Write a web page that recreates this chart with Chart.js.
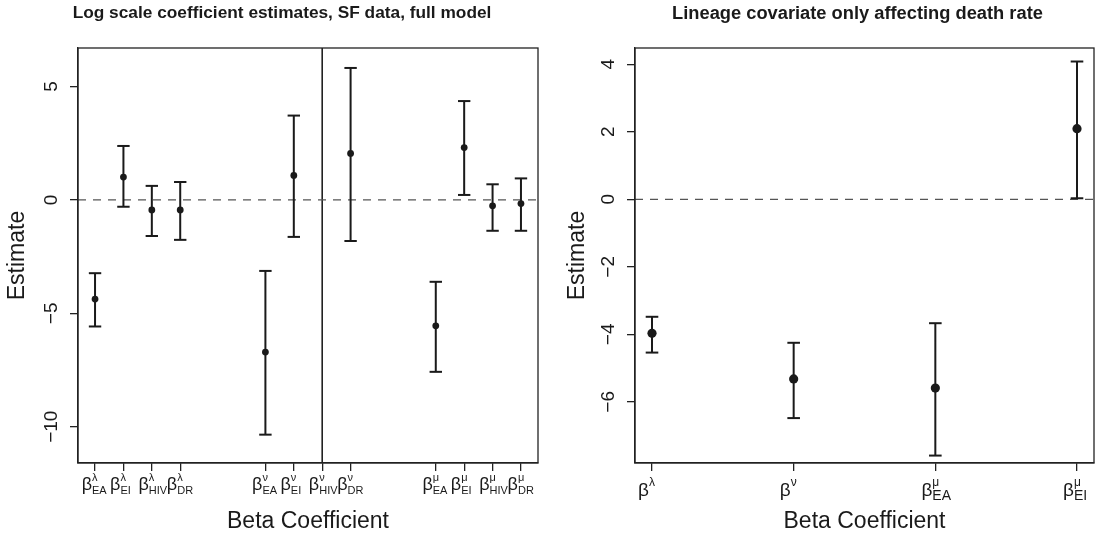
<!DOCTYPE html>
<html><head><meta charset="utf-8">
<script src="https://cdn.jsdelivr.net/npm/chart.js@4/dist/chart.umd.min.js"></script>
<style>
html,body{margin:0;padding:0;background:#fff;}
#wrap{position:relative;width:1096px;height:538px;overflow:hidden;}
canvas{position:absolute;top:0;}
#c1{left:0;}
#c2{left:548px;}
</style></head><body>
<div id="wrap"><canvas id="c1" width="548" height="538"></canvas><canvas id="c2" width="569" height="538"></canvas></div>
<script>
// ---------- Left panel ----------
const leftTitle = 'Log scale coefficient estimates, SF data, full model';
const leftPositions = [1, 2, 3, 4, 7, 8, 9, 10, 13, 14, 15, 16];
const leftTickBase = ['β','β','β','β','β','β','β','β','β','β','β','β'];
const leftTickSup = ['λ','λ','λ','λ','ν','ν','ν','ν','μ','μ','μ','μ'];
const leftTickSub = ['EA','EI','HIV','DR','EA','EI','HIV','DR','EA','EI','HIV','DR'];
const leftEstimate = [-4.37, 1.01, -0.44, -0.44, -6.71, 1.08, null, 2.05, -5.55, 2.31, -0.26, -0.16];
const leftLower    = [-5.58, -0.30, -1.59, -1.76, -10.35, -1.63, null, -1.81, -7.58, 0.22, -1.36, -1.36];
const leftUpper    = [-3.23, 2.38, 0.62, 0.79, -3.13, 3.72, null, 5.82, -3.61, 4.36, 0.69, 0.95];
const leftYTicks = [-10, -5, 0, 5];
const leftXRange = [0.4, 16.6];
const leftYRange = [-11.6, 6.7];
const leftDivider = 9;

// ---------- Right panel ----------
const rightTitle = 'Lineage covariate only affecting death rate';
const rightPositions = [1, 2, 3, 4];
const rightTickBase = ['β','β','β','β'];
const rightTickSup = ['λ','ν','μ','μ'];
const rightTickSub = ['','','EA','EI'];
const rightEstimate = [-3.97, -5.32, -5.59, 2.09];
const rightLower    = [-4.54, -6.48, -7.59, 0.03];
const rightUpper    = [-3.48, -4.25, -3.67, 4.08];
const rightYTicks = [-6, -4, -2, 0, 2, 4];
const rightXRange = [0.88, 4.12];
const rightYRange = [-7.81, 4.48];

const xLabel = 'Beta Coefficient';
const yLabel = 'Estimate';

const FONT = "'Liberation Sans', Arial, Helvetica, sans-serif";
const INK = '#1a1a1a';
const LABEL_SIZE = 23;
const TICK_SIZE = 19;

const boxPlugin = {
  id: 'box',
  afterDatasetsDraw(chart) {
    const a = chart.chartArea, ctx = chart.ctx;
    ctx.save();
    ctx.strokeStyle = '#222';
    ctx.lineWidth = 1.3;
    ctx.strokeRect(a.left, a.top, a.right - a.left, a.bottom - a.top);
    ctx.restore();
  }
};

function fmt(v) { return v < 0 ? '\u2212' + Math.abs(v) : String(v); }

function makeChart(id, p) {
  const whisker = [];
  const points = [];
  p.positions.forEach((x, i) => {
    if (p.est[i] == null) return;
    whisker.push({x: x, y: p.lo[i]}, {x: x, y: p.hi[i]}, {x: x, y: null});
    points.push({x: x, y: p.est[i]});
  });
  const datasets = [
    {label: 'est', data: points, showLine: false, pointRadius: p.pointR, pointHoverRadius: p.pointR,
     pointBackgroundColor: INK, pointBorderColor: INK, pointBorderWidth: 0},
    {label: 'ci', data: whisker, showLine: true, spanGaps: false, borderColor: INK, borderWidth: 2,
     pointStyle: 'line', pointRadius: p.capR, pointHoverRadius: p.capR, pointBorderColor: INK, pointBorderWidth: 2},
    {label: 'zero', data: [{x: p.xr[0], y: 0}, {x: p.xr[1], y: 0}], showLine: true, borderColor: '#555',
     borderWidth: 1.3, borderDash: [8, 7], pointRadius: 0}
  ];
  if (p.divider != null) {
    datasets.push({label: 'div', data: [{x: p.divider, y: p.yr[0]}, {x: p.divider, y: p.yr[1]}], showLine: true,
      borderColor: '#222', borderWidth: 1.6, pointRadius: 0});
  }
  const setTicks = (vals) => (s) => { s.ticks = vals.map(v => ({value: v})); };
  // extra label rows (super/subscripts) anchored at the bottom of the plot (y = yMin);
  // the vertical offset of each row comes from its line height
  const rowX = (size, lh, labels) => ({
    type: 'linear', axis: 'x', position: {y: p.yr[0]}, min: p.xr[0], max: p.xr[1],
    afterBuildTicks: setTicks(p.positions),
    grid: {display: false, drawTicks: false}, border: {display: false},
    ticks: {autoSkip: false, minRotation: 0, maxRotation: 0, align: 'start', labelOffset: p.labOff,
      padding: 0, color: INK, font: {family: FONT, size: size, lineHeight: lh / size},
      callback: (v, i) => labels[i]}
  });
  const scales = {
    x: {
      type: 'linear', position: 'bottom', min: p.xr[0], max: p.xr[1], weight: 0,
      afterBuildTicks: setTicks(p.positions),
      afterFit: (s) => { s.height = 75; },
      ticks: {autoSkip: false, minRotation: 0, maxRotation: 0, align: 'end', labelOffset: p.labOff,
        padding: 0, color: INK, font: {family: FONT, size: p.baseSize, lineHeight: p.baseLH / p.baseSize},
        callback: (v, i) => p.base[i]},
      grid: {display: true, drawOnChartArea: false, drawTicks: true, tickLength: 8, color: '#222', lineWidth: 1.3},
      border: {display: true, color: '#222', width: 1.3},
      title: {display: true, text: xLabel, color: INK, font: {family: FONT, size: LABEL_SIZE, lineHeight: 1.2},
        padding: {top: 0, bottom: 2.2}}
    },
    xSup: rowX(p.supSize, p.supLH, p.sup),
    xSub: rowX(p.subSize, p.subLH, p.sub),
    y: {
      type: 'linear', position: 'left', min: p.yr[0], max: p.yr[1],
      afterBuildTicks: setTicks(p.yTicks),
      afterFit: (s) => { s.width = p.yWidth; },
      ticks: {autoSkip: false, minRotation: 90, maxRotation: 90, crossAlign: 'center', padding: p.yPad,
        color: INK, font: {family: FONT, size: TICK_SIZE, lineHeight: 1.2}, callback: (v) => fmt(v)},
      grid: {display: true, drawOnChartArea: false, drawTicks: true, tickLength: 8, color: '#222', lineWidth: 1.3},
      border: {display: true, color: '#222', width: 1.3},
      title: {display: true, text: yLabel, color: INK, font: {family: FONT, size: LABEL_SIZE, lineHeight: 1.2},
        padding: {top: p.yTitlePad, bottom: 0}}
    }
  };
  if (p.rightGap) {
    scales.yGap = {
      type: 'linear', position: 'right', min: 0, max: 1,
      afterFit: (s) => { s.width = p.rightGap; },
      ticks: {display: false}, grid: {display: false, drawTicks: false}, border: {display: false}
    };
  }
  return new Chart(document.getElementById(id), {
    type: 'scatter',
    data: {datasets: datasets},
    options: {
      responsive: false, animation: false, devicePixelRatio: 1,
      layout: {padding: p.pad},
      plugins: {
        legend: {display: false}, tooltip: {enabled: false},
        title: {display: true, text: p.title, color: INK, font: {family: FONT, size: p.titleSize, weight: 'bold', lineHeight: 1.2},
          padding: {top: p.titleTop, bottom: 48 - p.titleTop - p.titleSize * 1.2}}
      },
      scales: scales
    },
    plugins: [boxPlugin]
  });
}

makeChart('c1', {
  title: leftTitle, titleSize: 17.3, titleTop: 3,
  positions: leftPositions, base: leftTickBase, sup: leftTickSup, sub: leftTickSub,
  est: leftEstimate, lo: leftLower, hi: leftUpper, yTicks: leftYTicks,
  xr: leftXRange, yr: leftYRange, divider: leftDivider,
  pad: {left: 26, right: 10, top: 0, bottom: 0}, yWidth: 52, yPad: 1.9, yTitlePad: -21.8,
  pointR: 3.4, capR: 6.2, labOff: -3,
  baseSize: 18, baseLH: 28, supSize: 11, supLH: 30, subSize: 11, subLH: 56
});

makeChart('c2', {
  title: rightTitle, titleSize: 18.3, titleTop: 3,
  positions: rightPositions, base: rightTickBase, sup: rightTickSup, sub: rightTickSub,
  est: rightEstimate, lo: rightLower, hi: rightUpper, yTicks: rightYTicks,
  xr: rightXRange, yr: rightYRange, divider: null,
  pad: {left: 52, right: 2, top: 0, bottom: 0}, yWidth: 35, yPad: 7.2, yTitlePad: -35.8, rightGap: 21,
  pointR: 4.6, capR: 6.3, labOff: -3,
  baseSize: 19, baseLH: 39, supSize: 12, supLH: 39, subSize: 14, subLH: 67
});
</script>
</body></html>
